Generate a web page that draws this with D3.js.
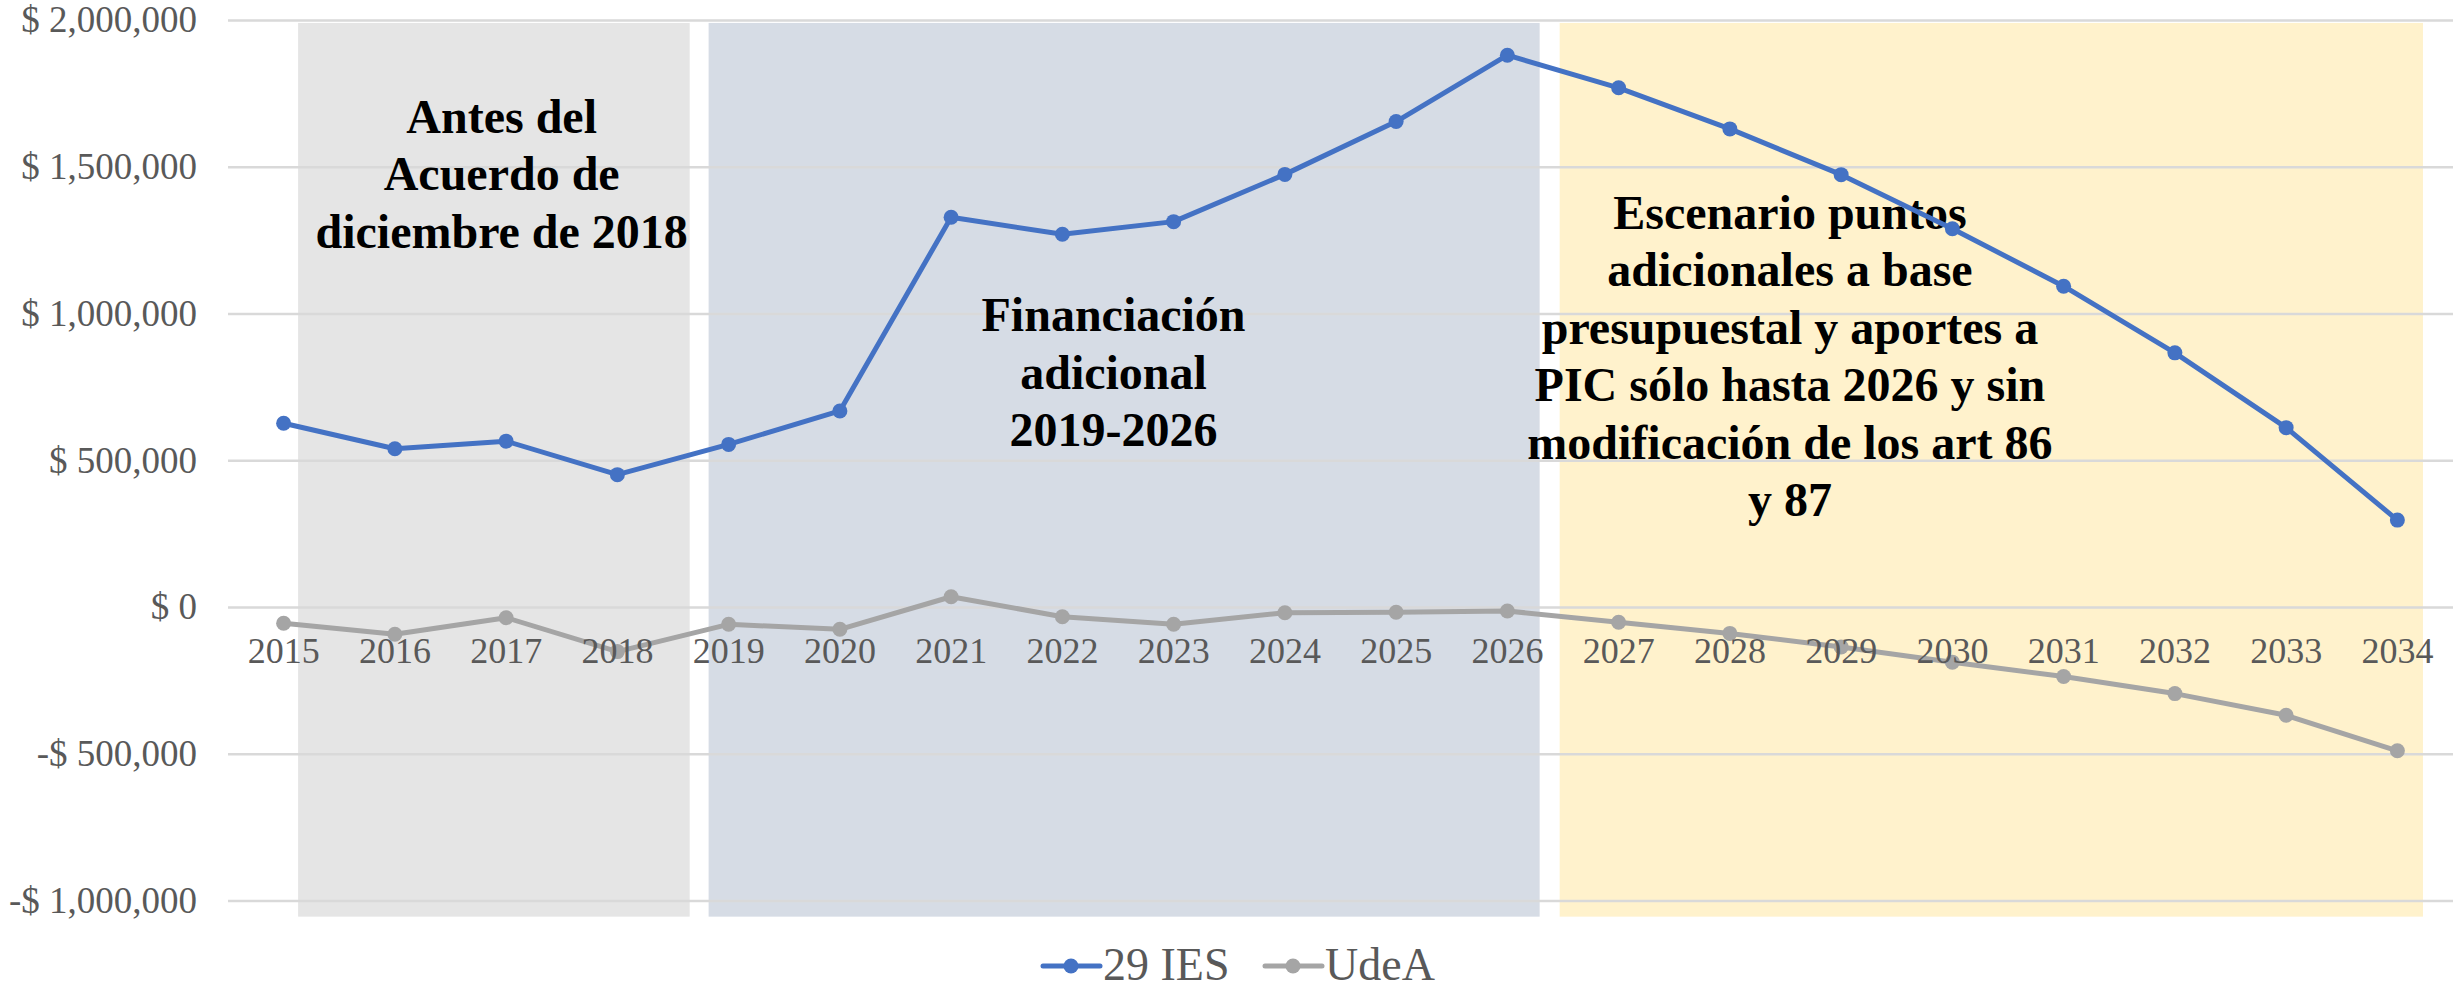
<!DOCTYPE html>
<html lang="es">
<head>
    <meta charset="UTF-8">
    <title>29 IES vs UdeA</title>
    <script src="https://d3js.org/d3.v7.min.js"></script>
    <style>
        html, body { margin: 0; padding: 0; background: #fff; }
        svg { display: block; }
    </style>
</head>
<body>
<svg id="main" width="2453" height="991"></svg>
<script>
    // data
    const years = ['2015','2016','2017','2018','2019','2020','2021','2022','2023','2024',
        '2025','2026','2027','2028','2029','2030','2031','2032','2033','2034'];
    const ies = [626000, 539000, 565000, 451000, 554000, 668000, 1328000, 1270000, 1313000, 1474000,
        1654000, 1880000, 1769000, 1629000, 1473000, 1289000, 1093000, 866000, 611000, 296000];
    const udea = [-55500, -93000, -36400, -152000, -59000, -76000, 35000, -33000, -59000, -19400,
        -18000, -13600, -52000, -90000, -136000, -188000, -237000, -295000, -369000, -490000];
    const yTicks = [-1000000, -500000, 0, 500000, 1000000, 1500000, 2000000];

    // shaded periods (in fractional years) and their notes
    const periods = [
        {from: 2015.13, to: 2018.65, color: '#e5e5e5'},
        {from: 2018.82, to: 2026.29, color: '#d6dce5'},
        {from: 2026.47, to: 2034.23, color: '#fff2cc'}
    ];
    const notes = [
        {year: 2016.96, value: 1615000, lines: ['Antes del', 'Acuerdo de', 'diciembre de 2018']},
        {year: 2022.46, value: 940000, lines: ['Financiación', 'adicional', '2019-2026']},
        {year: 2028.54, value: 1288000, lines: ['Escenario puntos', 'adicionales a base',
                'presupuestal y aportes a', 'PIC sólo hasta 2026 y sin', 'modificación de los art 86', 'y 87']}
    ];
    const series = [
        {name: '29 IES', values: ies, color: '#4472c4'},
        {name: 'UdeA', values: udea, color: '#a5a5a5'}
    ];

    const font = '"Liberation Serif", "Times New Roman", serif';
    const textGrey = '#595959';
    const plotLeft = 228, plotRight = 2453, plotTop = 20, plotBottom = 900.5;

    let svg = d3.select('svg#main');

    let xBand = d3.scaleBand().domain(years).range([plotLeft, plotRight]);
    let xYear = d3.scaleLinear().domain([2014.5, 2034.5]).range([plotLeft, plotRight]);
    let y = d3.scaleLinear().domain([-1000000, 2000000]).range([plotBottom, plotTop]);
    let cx = d => xBand(d) + xBand.bandwidth() / 2;

    // background periods
    svg.append('g').selectAll('rect')
        .data(periods)
        .enter()
        .append('rect')
        .attr('x', d => xYear(d.from))
        .attr('width', d => xYear(d.to) - xYear(d.from))
        .attr('y', y(1990000))
        .attr('height', y(-1055000) - y(1990000))
        .attr('fill', d => d.color);

    // gridlines + y labels
    let fmt = d3.format(',');
    let yAxis = d3.axisLeft(y)
        .tickValues(yTicks)
        .tickSize(-(plotRight - plotLeft))
        .tickPadding(31)
        .tickFormat(v => v < 0 ? '-$ ' + fmt(-v) : '$ ' + fmt(v));
    let gy = svg.append('g')
        .attr('transform', `translate(${plotLeft},0)`)
        .call(yAxis);
    gy.select('.domain').remove();
    gy.selectAll('.tick line').attr('stroke', '#d9d9d9').attr('stroke-width', 2.5);
    gy.selectAll('.tick text')
        .attr('font-family', font)
        .attr('font-size', 37)
        .attr('fill', textGrey);

    // notes
    notes.forEach(n => {
        let t = svg.append('text')
            .attr('text-anchor', 'middle')
            .attr('font-family', font)
            .attr('font-weight', 'bold')
            .attr('font-size', 48)
            .attr('fill', '#000');
        t.selectAll('tspan')
            .data(n.lines)
            .enter()
            .append('tspan')
            .attr('x', xYear(n.year))
            .attr('y', (d, i) => y(n.value) + i * 57.4)
            .text(d => d);
    });

    // lines
    let line = d3.line()
        .x((d, i) => cx(years[i]))
        .y(d => y(d));

    let groups = svg.selectAll('g.series')
        .data(series)
        .enter()
        .append('g')
        .attr('class', 'series');

    groups.append('path')
        .attr('d', d => line(d.values))
        .attr('fill', 'none')
        .attr('stroke', d => d.color)
        .attr('stroke-width', 5)
        .attr('stroke-linejoin', 'round');

    groups.each(function(s) {
        d3.select(this).selectAll('circle')
            .data(s.values)
            .enter()
            .append('circle')
            .attr('cx', (d, i) => cx(years[i]))
            .attr('cy', d => y(d))
            .attr('r', 7.5)
            .attr('fill', s.color);
    });

    // x labels sit just under the zero line
    let xAxis = d3.axisBottom(xBand).tickSize(0);
    let gx = svg.append('g')
        .attr('transform', `translate(0,${y(0)})`)
        .call(xAxis);
    gx.select('.domain').remove();
    gx.selectAll('.tick text')
        .attr('y', 56)
        .attr('dy', 0)
        .attr('font-family', font)
        .attr('font-size', 36)
        .attr('fill', textGrey);

    // legend
    let legendX = [1043, 1265];
    let legend = svg.append('g').selectAll('g')
        .data(series)
        .enter()
        .append('g')
        .attr('transform', (d, i) => `translate(${legendX[i]},966)`);
    legend.append('line')
        .attr('x1', 0).attr('x2', 57)
        .attr('stroke', d => d.color)
        .attr('stroke-width', 5)
        .attr('stroke-linecap', 'round');
    legend.append('circle')
        .attr('cx', 28).attr('r', 7.5)
        .attr('fill', d => d.color);
    legend.append('text')
        .attr('x', 60)
        .attr('y', 14)
        .attr('font-family', font)
        .attr('font-size', 46)
        .attr('fill', textGrey)
        .text(d => d.name);
</script>
</body>
</html>
